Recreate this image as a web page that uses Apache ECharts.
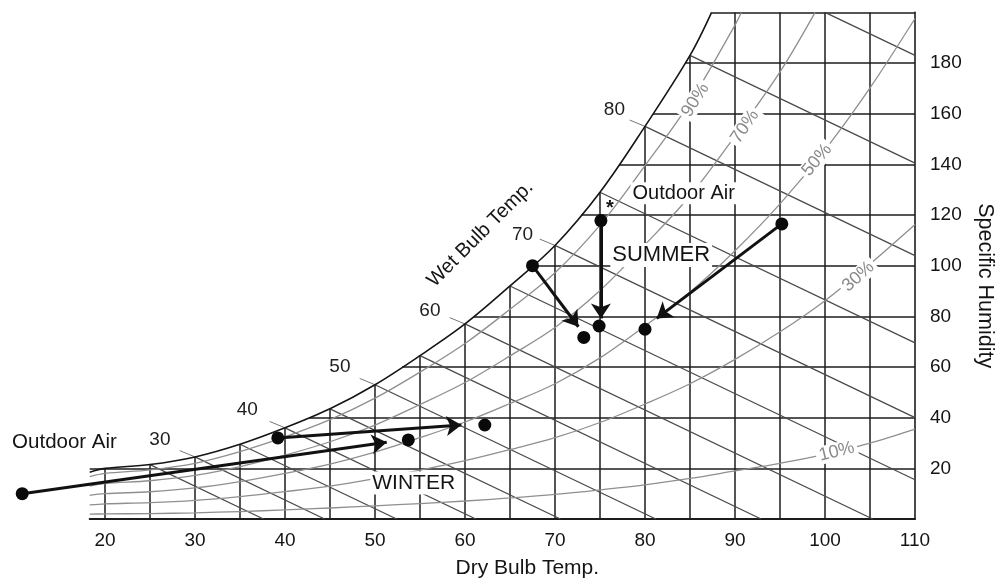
<!DOCTYPE html>
<html><head><meta charset="utf-8">
<script src="https://cdn.jsdelivr.net/npm/echarts@6/dist/echarts.min.js"></script>
<style>html,body{margin:0;padding:0;background:#fff}#c{width:997px;height:581px}</style>
</head><body><div id="c"></div>
<script>
// ---- tick labels ----
const xTicks = [20, 30, 40, 50, 60, 70, 80, 90, 100, 110];
const yTicks = [20, 40, 60, 80, 100, 120, 140, 160, 180];

// ---- saturation curve (dry bulb °F, specific humidity) ----
const satT = [18.3, 20, 25, 30, 35, 40, 45, 50, 55, 60, 65, 70, 75, 80, 85, 87.4];
const satW = [18.5, 20, 21.5, 24.5, 29.5, 36, 43.5, 53, 64.5, 77, 92, 108, 129, 155, 183, 200];

// ---- grid lines ----
const gridT = [20, 25, 30, 35, 40, 45, 50, 55, 60, 65, 70, 75, 80, 85, 90, 95, 100, 105];
const gridTtop = [20, 21.5, 24.5, 29.5, 36, 43.5, 53, 64.5, 77, 92, 108, 129, 155, 183, 200, 200, 200, 200];
const gridW = [20, 40, 60, 80, 100, 120, 140, 160, 180];
const gridWstart = [18.3, 42.7, 53.0, 61.0, 67.5, 72.9, 77.1, 80.9, 84.5];

// ---- wet bulb lines ----
const wbTemps  = [25, 30, 35, 40, 45, 50, 55, 60, 65, 70, 75, 80, 85, 90];
const wbStartT = [25, 30, 35, 40, 45, 50, 55, 60, 65, 70, 75, 80, 85, 100];
const wbStartW = [21.5, 24.5, 29.5, 36, 43.5, 53, 64.5, 77, 92, 108, 129, 155, 183, 200];
const wbEndT   = [37.6, 44.4, 52.4, 61.2, 70.6, 81.2, 92.9, 105.3, 110, 110, 110, 110, 110, 110];
const wbEndW   = [0, 0, 0, 0, 0, 0, 0, 0, 15.5, 40, 69.5, 104, 140.5, 183];

// wet bulb labels and their leader ticks
const wbLabels = ['30', '40', '50', '60', '70', '80'];
const wbLabelT = [26.1, 35.8, 46.1, 56.1, 66.4, 76.6];
const wbLabelW = [31.2, 43.0, 60.0, 82.1, 112.1, 161.6];
const wbTickFromT = [30, 40, 50, 60, 70, 80];
const wbTickFromW = [24.5, 36, 53, 77, 108, 155];
const wbTickToT = [28.3, 38.3, 48.3, 58.3, 68.3, 78.3];
const wbTickToW = [27, 38.5, 55.5, 79.5, 110.5, 157.5];

// ---- relative humidity curves ----
const rhT = [18.3, 20, 25, 30, 35, 40, 45, 50, 55, 60, 65, 70, 75, 80, 85, 90, 95, 100, 105, 110];
const rh90T = [18.3, 20, 25, 30, 35, 40, 45, 50, 55, 60, 65, 70, 75, 80, 85, 90, 90.7];
const rh90W = [16.7, 18, 19.4, 22, 26.6, 32.4, 39.2, 47.7, 58, 69.3, 82.8, 97.2, 116, 139.5, 164.5, 195, 200];
const rh70T = [18.3, 20, 25, 30, 35, 40, 45, 50, 55, 60, 65, 70, 75, 80, 85, 90, 95, 98.9];
const rh70W = [13, 14, 15.1, 17.2, 20.7, 25.2, 30.5, 37.1, 45.2, 53.9, 64.4, 75.6, 90.2, 108.3, 127.6, 151.2, 176.5, 200];
const rh50W = [9.3, 10, 10.75, 12.25, 14.75, 18, 21.7, 26.4, 32.1, 38.3, 45.6, 53.4, 63.6, 76.2, 89.6, 105.9, 124.4, 145.7, 170.2, 197.6];
const rh30W = [5.6, 6, 6.45, 7.35, 8.85, 10.8, 13, 15.9, 19.3, 23, 27.4, 32.1, 38.1, 45.4, 53.4, 63, 73.9, 86.2, 100.7, 116.3];
const rh10W = [1.9, 2, 2.15, 2.45, 2.95, 3.6, 4.35, 5.2, 6.1, 7.1, 8.3, 9.7, 11.5, 13.5, 16, 19, 22, 25.5, 30, 35.5];
const rhLabels = ['90%', '70%', '50%', '30%', '10%'];
const rhLabelT = [85.6, 91.1, 99.1, 103.7, 101.3];
const rhLabelW = [165.4, 154.9, 141.7, 95.7, 26.6];

// ---- process points and arrows ----
const pointT = [10.8, 53.7, 39.2, 62.2, 67.5, 73.2, 75.1, 74.9, 95.2, 80.0];
const pointW = [10.0, 31.2, 32.0, 37.1, 100.0, 71.7, 117.8, 76.2, 116.5, 74.9];
const arrowFromT = [10.8, 39.2, 67.5, 75.1, 95.2];
const arrowFromW = [10.0, 32.0, 100.0, 117.8, 116.5];
const arrowToT = [51.3, 59.6, 72.6, 75.1, 81.3];
const arrowToW = [30.3, 37.1, 75.9, 79.2, 79.2];

// ---- other annotations ----
const noteText = ['Outdoor Air', 'Outdoor Air', 'SUMMER', 'WINTER', '*', 'Wet Bulb Temp.'];
const noteT = [15.5, 84.3, 81.8, 54.3, 76.1, 61.7];
const noteW = [30.1, 128.6, 104.2, 14.2, 122.5, 112.5];

const FONT = '"Liberation Sans", Arial, sans-serif';
const seg = (a, b, c, d) => ({ coords: [[a, b], [c, d]] });

const gridSegs = gridT.map((t, i) => seg(t, 0, t, gridTtop[i]))
  .concat(gridW.map((w, i) => seg(gridWstart[i], w, 110, w)))
  .concat([seg(87.4, 200, 110, 200)]);
const wbSegs = wbTemps.map((t, i) => seg(wbStartT[i], wbStartW[i], wbEndT[i], wbEndW[i]));
const wbTickSegs = wbLabels.map((t, i) => seg(wbTickFromT[i], wbTickFromW[i], wbTickToT[i], wbTickToW[i]));
const arrowSegs = arrowFromT.map((t, i) => seg(t, arrowFromW[i], arrowToT[i], arrowToW[i]));
const zip = (xs, ys) => xs.map((x, i) => [x, ys[i]]);

function rhSeries(xs, ys) {
  return { type: 'line', data: zip(xs, ys), smooth: 0.35, showSymbol: false,
    lineStyle: { color: '#8f8f8f', width: 1.3 }, z: 3, silent: true, clip: true };
}

const labelData = [];
const rhRot = [58, 55, 50, 42, 14];
rhLabels.forEach((t, i) => labelData.push({ value: [rhLabelT[i], rhLabelW[i]],
  label: { formatter: t, rotate: rhRot[i], color: '#8a8a8a', fontSize: 18, backgroundColor: '#fff', padding: [0, 3] } }));
wbLabels.forEach((t, i) => labelData.push({ value: [wbLabelT[i], wbLabelW[i]],
  label: { formatter: t, color: '#1e1e1e', fontSize: 19 } }));
const noteStyle = [
  { fontSize: 20.5 },
  { fontSize: 20, backgroundColor: '#fff', padding: [1, 2] },
  { fontSize: 22, backgroundColor: '#fff', padding: [1, 2] },
  { fontSize: 21, backgroundColor: '#fff', padding: [1, 2] },
  { fontSize: 20, fontWeight: 'bold' },
  { fontSize: 20, rotate: 45 }
];
noteText.forEach((t, i) => labelData.push({ value: [noteT[i], noteW[i]],
  label: Object.assign({ formatter: t, color: '#141414' }, noteStyle[i]) }));

const chart = echarts.init(document.getElementById('c'), null, { renderer: 'canvas' });
chart.setOption({
  animation: false,
  backgroundColor: '#fff',
  textStyle: { fontFamily: FONT },
  grid: { left: 89.7, right: 82, top: 12.4, bottom: 62, containLabel: false, outerBoundsMode: 'none' },
  xAxis: {
    type: 'value', min: 18.3, max: 110,
    name: 'Dry Bulb Temp.', nameLocation: 'middle', nameGap: 39,
    nameTextStyle: { fontSize: 21, color: '#141414', padding: [0, 0, 0, 50] },
    axisLine: { show: true, lineStyle: { color: '#1c1c1c', width: 2 } },
    axisTick: { show: false },
    splitLine: { show: false },
    axisLabel: { customValues: xTicks, fontSize: 19, color: '#141414', margin: 12 }
  },
  yAxis: {
    type: 'value', position: 'right', min: 0, max: 200,
    name: 'Specific Humidity', nameLocation: 'middle', nameRotate: -90, nameGap: 59,
    nameTextStyle: { fontSize: 21.5, color: '#141414', padding: [0, 0, 0, 40] },
    axisLine: { show: true, onZero: false, lineStyle: { color: '#1c1c1c', width: 1.6 } },
    axisTick: { show: false },
    splitLine: { show: false },
    axisLabel: { customValues: yTicks, fontSize: 19, color: '#141414', margin: 15 }
  },
  series: [
    { type: 'lines', coordinateSystem: 'cartesian2d', data: gridSegs, silent: true, z: 1,
      lineStyle: { color: '#1c1c1c', width: 1.5, opacity: 1, curveness: 0 } },
    { type: 'lines', coordinateSystem: 'cartesian2d', data: wbSegs, silent: true, z: 2,
      lineStyle: { color: '#4a4a4a', width: 1.3, opacity: 1, curveness: 0 } },
    { type: 'lines', coordinateSystem: 'cartesian2d', data: wbTickSegs, silent: true, z: 2, clip: false,
      lineStyle: { color: '#777', width: 1, opacity: 1, curveness: 0 } },
    rhSeries(rh90T, rh90W),
    rhSeries(rh70T, rh70W),
    rhSeries(rhT, rh50W),
    rhSeries(rhT, rh30W),
    rhSeries(rhT, rh10W),
    { type: 'line', data: zip(satT, satW), smooth: 0.35, showSymbol: false,
      lineStyle: { color: '#151515', width: 1.6 }, z: 4, silent: true },
    { type: 'scatter', data: labelData, symbolSize: 1, itemStyle: { color: 'rgba(0,0,0,0)', opacity: 1 }, z: 5, clip: false,
      silent: true, label: { show: true, position: 'inside', align: 'center', verticalAlign: 'middle', opacity: 1 } },
    { type: 'lines', coordinateSystem: 'cartesian2d', data: arrowSegs, z: 10, clip: false, silent: true,
      symbol: ['none', 'arrow'], symbolSize: 15,
      lineStyle: { color: '#111', width: 3, opacity: 1, curveness: 0 } },
    { type: 'scatter', data: zip(pointT, pointW), symbolSize: 13, z: 11, clip: false, silent: true,
      itemStyle: { color: '#0a0a0a', opacity: 1 } }
  ]
});
</script></body></html>
